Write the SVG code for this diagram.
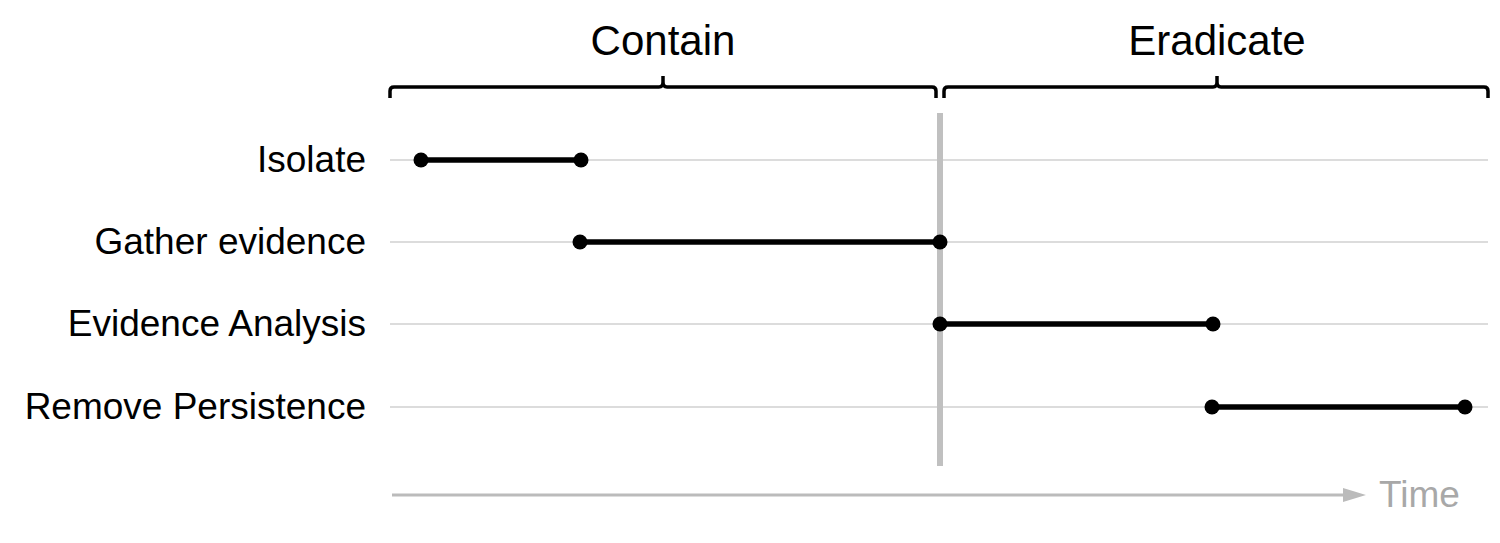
<svg xmlns="http://www.w3.org/2000/svg" width="1500" height="543" viewBox="0 0 1500 543">
<defs>
<style>
.t{font-family:"Liberation Sans",Arial,sans-serif;font-size:37px;fill:#000}
.h{font-family:"Liberation Sans",Arial,sans-serif;font-size:42px;fill:#000;text-anchor:middle}
.g{stroke:#dcdcdc;stroke-width:2}
.b{fill:none;stroke:#000;stroke-width:3.5}
.bar{stroke:#000;stroke-width:5.5}
.d{fill:#000}
</style>
</defs>
<rect width="1500" height="543" fill="#fff"/>
<g id="grid">
<line class="g" x1="390" y1="160" x2="1488" y2="160"/>
<line class="g" x1="390" y1="242" x2="1488" y2="242"/>
<line class="g" x1="390" y1="324" x2="1488" y2="324"/>
<line class="g" x1="390" y1="407" x2="1488" y2="407"/>
<line x1="940" y1="113" x2="940" y2="466" stroke="#c0c0c0" stroke-width="6"/>
</g>
<g id="phase-contain">
<path class="b" d="M390,98 V91 Q390,87 394,87 H659 Q663,87 663,82 V76 M663,82 Q663,87 667,87 H932 Q936,87 936,91 V98"/>
<text class="h" x="663" y="55">Contain</text>
</g>
<g id="phase-eradicate">
<path class="b" d="M944,98 V91 Q944,87 948,87 H1213 Q1217,87 1217,82 V76 M1217,82 Q1217,87 1221,87 H1484 Q1488,87 1488,91 V98"/>
<text class="h" x="1217" y="55">Eradicate</text>
</g>
<g id="labels">
<text class="t" x="366" y="172" text-anchor="end">Isolate</text>
<text class="t" x="366" y="254" text-anchor="end">Gather evidence</text>
<text class="t" x="366" y="336" text-anchor="end">Evidence Analysis</text>
<text class="t" x="366" y="419" text-anchor="end">Remove Persistence</text>
</g>
<g id="connectors">
<line class="bar" x1="421" y1="160" x2="581" y2="160"/>
<line class="bar" x1="580" y1="242" x2="940" y2="242"/>
<line class="bar" x1="940" y1="324" x2="1213" y2="324"/>
<line class="bar" x1="1212" y1="407" x2="1465" y2="407"/>
<line x1="392" y1="495" x2="1348" y2="495" stroke="#bbb" stroke-width="3"/>
<polygon points="1343,488 1366,495 1343,502" fill="#bbb"/>
</g>
<g id="dots">
<circle class="d" cx="421" cy="160" r="7.5"/><circle class="d" cx="581" cy="160" r="7.5"/>
<circle class="d" cx="580" cy="242" r="7.5"/><circle class="d" cx="940" cy="242" r="7.5"/>
<circle class="d" cx="940" cy="324" r="7.5"/><circle class="d" cx="1213" cy="324" r="7.5"/>
<circle class="d" cx="1212" cy="407" r="7.5"/><circle class="d" cx="1465" cy="407" r="7.5"/>
</g>
<text x="1379" y="507" font-family="Liberation Sans,Arial,sans-serif" font-size="37" fill="#a8a8a8">Time</text>
</svg>
